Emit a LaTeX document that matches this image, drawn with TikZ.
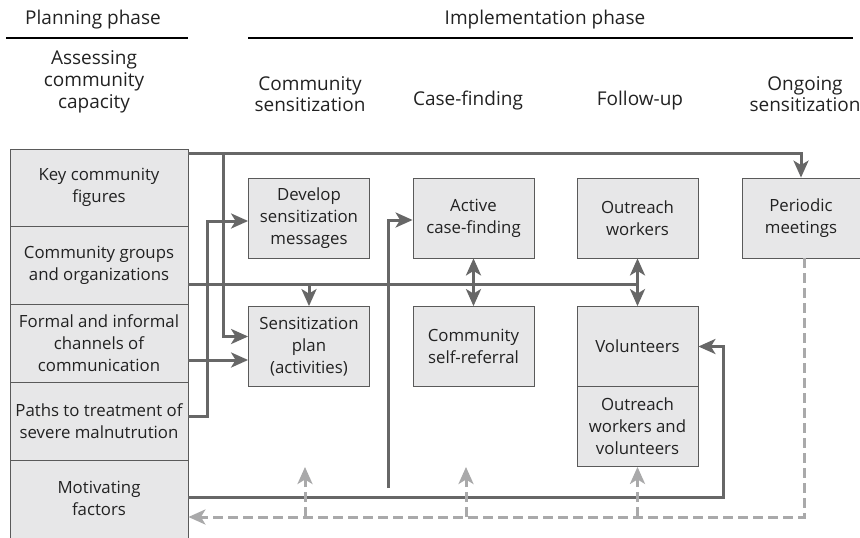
\documentclass[tikz,border=0pt]{standalone}
\usepackage{fontspec}
\setmainfont{Open Sans}
\usetikzlibrary{arrows.meta,calc}
\definecolor{boxfill}{HTML}{E7E7E8}
\definecolor{boxline}{HTML}{5A5A5A}
\definecolor{conncol}{HTML}{676767}
\definecolor{dashcol}{HTML}{A9A9AA}
\definecolor{txt}{HTML}{222222}
\begin{document}
\begin{tikzpicture}[x=1pt,y=-1pt,
  every node/.style={text=txt,font=\fontsize{16.8}{22}\selectfont},
  box/.style={draw=boxline,fill=boxfill,line width=0.8pt,minimum width=121pt,minimum height=80pt,align=center,inner sep=0pt},
  lbox/.style={draw=boxline,fill=boxfill,line width=0.8pt,minimum width=178pt,minimum height=78pt,align=center,inner sep=0pt},
  head/.style={align=center,inner sep=0pt,font=\fontsize{19}{21.7}\selectfont},
  tip/.style={Stealth[length=17pt,width=15pt,inset=4.5pt]},
  conn/.style={draw=conncol,line width=3pt,-{Stealth[length=17pt,width=15pt,inset=4.5pt]}},
  conn2/.style={draw=conncol,line width=3pt,{Stealth[length=17pt,width=15pt,inset=4.5pt]}-{Stealth[length=17pt,width=15pt,inset=4.5pt]}},
  plain/.style={draw=conncol,line width=3pt},
  dconn/.style={draw=dashcol,line width=3pt,dash pattern=on 10pt off 5pt,-{Stealth[length=17pt,width=15pt,inset=4.5pt]}},
  phase/.style={draw=black,line width=1.6pt}
]
\useasboundingbox (0,0) rectangle (860,538);
% headers
\node[head] (hplan) at (93,20) {Planning phase};
\node[head] (himpl) at (545,20) {Implementation phase};
\coordinate (pl1) at (6,38); \coordinate (pl2) at (188,38);
\coordinate (im1) at (248,38); \coordinate (im2) at (853,38);
\draw[phase] (pl1) -- (pl2);
\draw[phase] (im1) -- (im2);
\node[head] (hassess) at (94,82) {Assessing\\community\\capacity};
\node[head] (hsens) at (310,94) {Community\\sensitization};
\node[head] (hcase) at (468,101) {Case-finding};
\node[head] (hfollow) at (640,101) {Follow-up};
\node[head] (hongo) at (805,94) {Ongoing\\sensitization};
% left column
\node[lbox,minimum height=77pt] (key) at (99,187.5) {Key community\\figures};
\node[lbox] (groups) at (99,265) {Community groups\\and organizations};
\node[lbox] (formal) at (99,343) {Formal and informal\\channels of\\communication};
\node[lbox] (paths) at (99,421) {Paths to treatment of\\severe malnutrution};
\node[lbox,minimum height=80pt] (motiv) at (99,500) {\raisebox{4pt}{\shortstack{Motivating\\[2pt]factors}}};
% boxes
\node[box] (dev) at (309,218) {Develop\\sensitization\\messages};
\node[box] (plan) at (309,346.5) {Sensitization\\plan\\(activities)};
\node[box] (acf) at (473.5,218) {Active\\case-finding};
\node[box] (csr) at (473.5,346.5) {Community\\self-referral};
\node[box] (ow) at (637.5,218) {Outreach\\workers};
\node[box] (vol) at (637.5,346.5) {Volunteers};
\node[box] (owv) at (637.5,426.5) {Outreach\\workers and\\volunteers};
\node[box,minimum width=118pt] (meet) at (801,218) {Periodic\\meetings};
% connectors
\coordinate (j1) at (223,153);
\draw[conn] (key.east |- j1) -| (meet.north);
\draw[conn] (j1) |- ([yshift=10pt]plan.west);
\draw[conn] (paths.east |- 0,416) -- (207,416) |- ([yshift=-3pt]dev.west);
\draw[conn] (formal.east |- 0,360) -- (plan.west |- 0,360);
\coordinate (j2) at (309,284);
\draw[plain] (groups.east |- j2) -- (ow.south |- j2);
\draw[conn] (j2) -- (plan.north);
\draw[conn2] (acf.south) -- (csr.north);
\draw[conn2] (ow.south) -- (vol.north);
\draw[conn] (motiv.east |- 0,497) -- (723,497) |- (vol.east);
\coordinate (s6) at (388,488);
\draw[conn] (s6) |- ([yshift=-2pt]acf.west);
% dashed feedback
\coordinate (d1) at (305,517); \coordinate (d1e) at (305,467);
\coordinate (d2) at (466,517); \coordinate (d2e) at (466,467);
\coordinate (d3) at (637.5,517);
\draw[dconn] ([xshift=3pt]meet.south) |- (motiv.east |- d1);
\draw[dconn] (d1) -- (d1e);
\draw[dconn] (d2) -- (d2e);
\draw[dconn] (d3) -- (owv.south);
\end{tikzpicture}
\end{document}
